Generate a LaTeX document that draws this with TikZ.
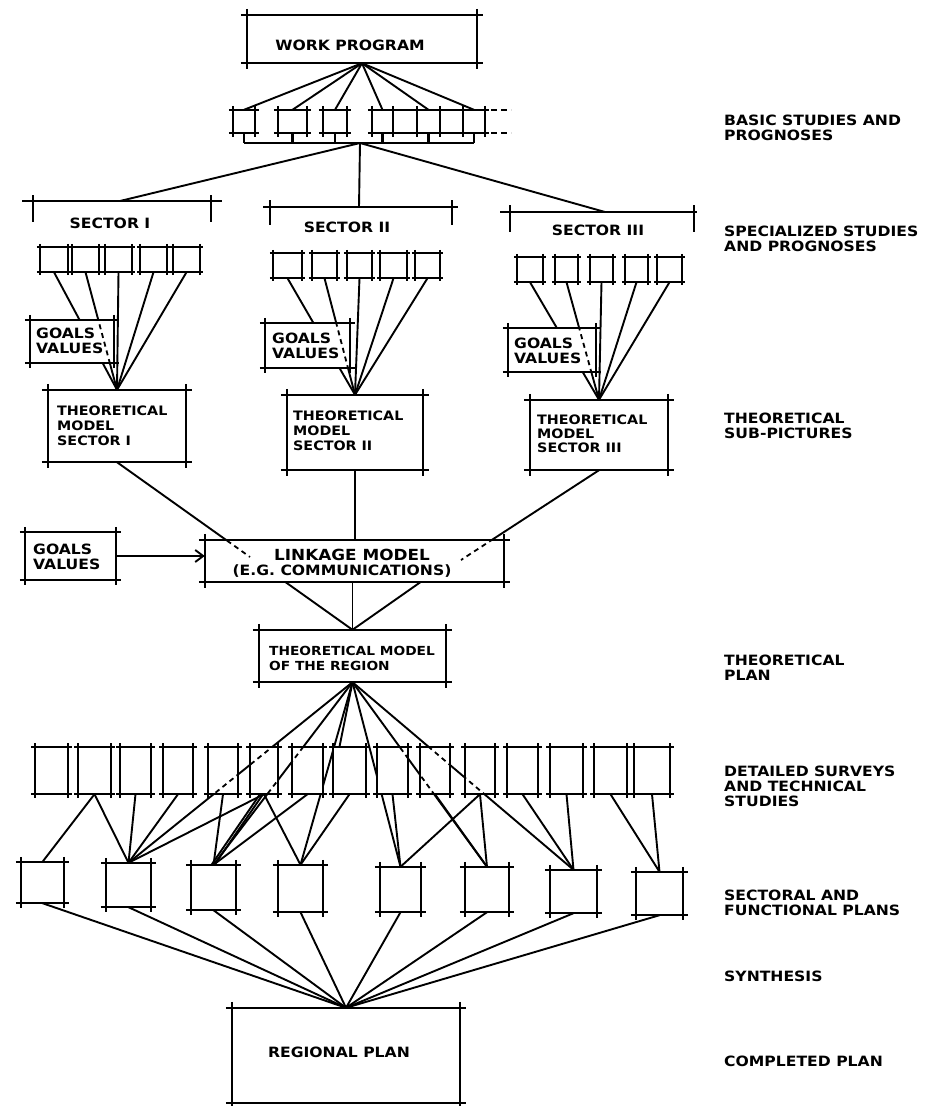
\documentclass[tikz,border=0pt]{standalone}
\usepackage{fontspec}
\setmainfont{DejaVu Sans}[FakeStretch=1.1]
\usetikzlibrary{arrows.meta,calc}
\pgfdeclarelayer{paper}\pgfdeclarelayer{bg}
\pgfsetlayers{paper,bg,main}
\tikzset{
 xl/.style={draw, line width=2.2pt, shorten <=-#1, shorten >=-#1},
 xbox/.style={rectangle, inner sep=0pt, fill=white, append after command={
   (\tikzlastnode.north west) edge[xl=#1] (\tikzlastnode.north east)
   (\tikzlastnode.south west) edge[xl=#1] (\tikzlastnode.south east)
   (\tikzlastnode.north west) edge[xl=#1] (\tikzlastnode.south west)
   (\tikzlastnode.north east) edge[xl=#1] (\tikzlastnode.south east)}},
 bar/.style={line width=2.2pt},
 con/.style={line width=1.9pt},
 dline/.style={line width=1.8pt, dash pattern=on 5pt off 4pt},
 txt/.style={inner sep=0pt, font=\fontsize{14.2}{15}\selectfont\bfseries, align=left},
 lab/.style={inner sep=0pt, font=\fontsize{14.2}{15}\selectfont\bfseries, align=left, anchor=north west},
}
\newcommand\xb[6][6pt]{\node[xbox=#1, minimum width={(#5-#3)*1pt}, minimum height={(#6-#4)*1pt}] (#2) at ({(#3+#5)/2},{(#4+#6)/2}) {};}
\newcommand\dashin[3]{\begin{scope}\clip (#1.north west) rectangle (#1.south east); \draw[dline] (#2) -- (#3);\end{scope}}
\begin{document}
\begin{tikzpicture}[x=1pt,y=-1pt]
\begin{pgfonlayer}{paper}\fill[white] (0,0) rectangle (930,1106);\end{pgfonlayer}
\useasboundingbox (0,0) rectangle (930,1106);

% ---------- work program and basic studies
\xb{wp}{247}{15}{477}{63}
\node[txt] (wpt) at (350,45) {WORK PROGRAM};
\xb[4pt]{b1}{233}{110}{255}{133}
\xb[4pt]{b2}{278}{110}{307}{133}
\xb[4pt]{b3}{323}{110}{347}{133}
\xb[4pt]{b4}{372}{110}{393}{133}
\xb[4pt]{b5}{417}{110}{440}{133}
\xb[4pt]{b6}{463}{110}{485}{133}
\draw[bar] (b4.north east) -- (b5.north west) (b5.north east) -- (b6.north west)
           (b4.south east) -- (b5.south west) (b5.south east) -- (b6.south west);
\draw[bar, dash pattern=on 6pt off 4pt] ([xshift=6pt]b6.north east) -- ([xshift=26pt]b6.north east);
\draw[bar, dash pattern=on 6pt off 4pt] ([xshift=6pt]b6.south east) -- ([xshift=26pt]b6.south east);
\coordinate (brk) at (360,143);
\coordinate (j1) at (120,201);
\coordinate (j2) at (359,207);
\coordinate (j3) at (605,212);
\begin{pgfonlayer}{bg}
 \foreach \i in {1,...,6} \draw[con] (wp.south) -- (b\i.north);
 \foreach \i in {1,...,6} \draw[bar] (b\i.south) -- (b\i.south |- brk);
 \draw[bar] (b1.south |- brk) -- (b6.south |- brk);
 \draw[con] (brk) -- (j1);
 \draw[con] (brk) -- (j2);
 \draw[con] (brk) -- (j3);
\end{pgfonlayer}

% ---------- sector bars
\draw[bar] (22,201) -- (222,201) (33,195) -- (33,222) (211,195) -- (211,222);
\draw[bar] (263,207) -- (458,207) (270,200) -- (270,225) (452,200) -- (452,225);
\draw[bar] (500,212) -- (697,212) (510,205) -- (510,232) (694,205) -- (694,232);
\node[txt] (sec1) at (110,223) {SECTOR I};
\node[txt] (sec2) at (347,227) {SECTOR II};
\node[txt] (sec3) at (598,230) {SECTOR III};

% ---------- sector I
\xb[3pt]{sa1}{40}{247}{68}{272}
\xb[3pt]{sa2}{72}{247}{99}{272}
\xb[3pt]{sa3}{105}{247}{132}{272}
\xb[3pt]{sa4}{140}{247}{167}{272}
\xb[3pt]{sa5}{173}{247}{200}{272}
\xb[5pt]{ga}{30}{320}{114}{363}
\node[txt, anchor=west] (gat) at (36,341) {GOALS\\VALUES};
\xb{ta}{48}{390}{186}{462}
\node[txt, font=\fontsize{13}{15}\selectfont\bfseries, anchor=north west] (tat) at (57,406) {THEORETICAL\\MODEL\\SECTOR I};
% ---------- sector II
\xb[3pt]{sb1}{273}{253}{302}{278}
\xb[3pt]{sb2}{312}{253}{337}{278}
\xb[3pt]{sb3}{347}{253}{372}{278}
\xb[3pt]{sb4}{380}{253}{407}{278}
\xb[3pt]{sb5}{415}{253}{440}{278}
\xb[5pt]{gb}{265}{323}{350}{368}
\node[txt, anchor=west] (gbt) at (272,346) {GOALS\\VALUES};
\xb{tb}{287}{395}{423}{470}
\node[txt, font=\fontsize{13}{15}\selectfont\bfseries, anchor=north west] (tbt) at (293,411) {THEORETICAL\\MODEL\\SECTOR II};
% ---------- sector III
\xb[3pt]{sc1}{517}{257}{543}{282}
\xb[3pt]{sc2}{555}{257}{578}{282}
\xb[3pt]{sc3}{590}{257}{613}{282}
\xb[3pt]{sc4}{625}{257}{648}{282}
\xb[3pt]{sc5}{657}{257}{682}{282}
\xb[5pt]{gc}{508}{328}{596}{372}
\node[txt, anchor=west] (gct) at (514,351) {GOALS\\VALUES};
\xb{tc}{530}{400}{668}{470}
\node[txt, font=\fontsize{13}{14}\selectfont\bfseries, anchor=north west] (tct) at (537,415) {THEORETICAL\\MODEL\\SECTOR III};

\begin{pgfonlayer}{bg}
 \foreach \i in {1,...,5} \draw[con] (sa\i.south) -- (ta.north);
 \foreach \i in {1,...,5} \draw[con] (sb\i.south) -- (tb.north);
 \foreach \i in {1,...,5} \draw[con] (sc\i.south) -- (tc.north);
\end{pgfonlayer}
\dashin{ga}{sa2.south}{ta.north}
\dashin{gb}{sb2.south}{tb.north}
\dashin{gc}{sc2.south}{tc.north}

% ---------- linkage model
\xb[5pt]{gv}{25}{532}{116}{580}
\node[txt, anchor=west] (gvt) at (33,557) {GOALS\\VALUES};
\xb{lk}{205}{540}{504}{582}
\node[txt, font=\fontsize{15.3}{16}\selectfont\bfseries] (lkt1) at (352,555) {LINKAGE MODEL};
\node[txt, font=\fontsize{14.2}{15}\selectfont\bfseries] (lkt2) at (342,571) {(E.G. COMMUNICATIONS)};
\draw[con, -{Straight Barb[length=8pt, width=12pt]}] (gv.east) -- (gv.east -| lk.west);
\coordinate (k1) at (250,557);
\coordinate (k3) at (461,560);
\begin{pgfonlayer}{bg}
 \draw[con] (ta.south) -- (k1);
 \draw[con] (tb.south) -- (tb.south |- lk.north);
 \draw[con] (tc.south) -- (k3);
\end{pgfonlayer}
\dashin{lk}{ta.south}{k1}
\dashin{lk}{tc.south}{k3}

% ---------- theoretical model of the region
\xb{tr}{259}{630}{446}{682}
\node[txt, font=\fontsize{12.5}{15.5}\selectfont\bfseries, anchor=north west] (trt) at (269,646) {THEORETICAL MODEL\\OF THE REGION};
\coordinate (l1) at ($(lk.south west)!0.27!(lk.south east)$);
\coordinate (l3) at ($(lk.south west)!0.72!(lk.south east)$);
\begin{pgfonlayer}{bg}
 \draw[con] (l1) -- (tr.north);
 \draw[con] (lk.south -| tr.north) -- (tr.north);
 \draw[con] (l3) -- (tr.north);
\end{pgfonlayer}

% ---------- detailed surveys
\foreach \n/\a/\b in {1/35/68, 2/78/111, 3/120/151, 4/163/193, 5/208/238, 6/250/278, 7/292/323, 8/333/366, 9/377/408, 10/420/450, 11/465/495, 12/507/538, 13/550/583, 14/594/627, 15/634/670}
  {\xb[3.5pt]{d\n}{\a}{747}{\b}{794}}
% ---------- sectoral plans
\foreach \n/\a/\t/\b/\c in {1/21/862/64/903, 2/106/863/151/907, 3/191/865/236/910, 4/278/865/323/912, 5/380/867/421/912, 6/465/867/509/912, 7/550/870/597/913, 8/636/872/683/915}
  {\xb[5pt]{p\n}{\a}{\t}{\b}{\c}}
% ---------- regional plan
\xb{rp}{232}{1008}{460}{1103}
\node[txt] (rpt) at (339,1052) {REGIONAL PLAN};

\coordinate (g8) at ($(d8.north west)!0.2!(d8.north east)$);
\begin{pgfonlayer}{bg}
 \draw[con] (tr.south) -- (p2.north);
 \draw[con] (tr.south) -- (p3.north);
 \draw[con] (tr.south) -- (p4.north);
 \draw[con] (tr.south) -- (g8);
 \draw[con] (tr.south) -- (p5.north);
 \draw[con] (tr.south) -- (p6.north);
 \draw[con] (tr.south) -- (p7.north);
 \draw[con] (d2.south) -- (p1.north);
 \draw[con] (d2.south) -- (p2.north);
 \draw[con] (d3.south) -- (p2.north);
 \draw[con] (d4.south) -- (p2.north);
 \draw[con] (d6.south) -- (p2.north);
 \draw[con] (d5.south) -- (p3.north);
 \draw[con] ([xshift=-4pt]d6.south) -- ([xshift=-2pt]p3.north);
 \draw[con] ([xshift=-1pt]d6.south) -- ([xshift=1pt]p3.north);
 \draw[con] (d7.south) -- (p3.north);
 \draw[con] (d6.south) -- (p4.north);
 \draw[con] (d8.south) -- (p4.north);
 \draw[con] (d9.south) -- (p5.north);
 \draw[con] (d11.south) -- (p5.north);
 \draw[con] (d10.south) -- (p6.north);
 \draw[con] (d11.south) -- (p6.north);
 \draw[con] (d12.south) -- (p7.north);
 \draw[con] (d13.south) -- (p7.north);
 \draw[con] (d14.south) -- (p8.north);
 \draw[con] (d15.south) -- (p8.north);
 \foreach \n in {1,...,8} \draw[con] (p\n.south) -- (rp.north);
\end{pgfonlayer}
\dashin{d6}{tr.south}{p2.north}
\dashin{d5}{tr.south}{p2.north}
\dashin{d7}{tr.south}{p3.north}
\dashin{d6}{tr.south}{p3.north}
\dashin{d9}{tr.south}{p6.north}
\dashin{d10}{tr.south}{p6.north}
\dashin{d10}{tr.south}{p7.north}
\dashin{d11}{tr.south}{p7.north}

% ---------- right-hand labels
\node[lab] (L1) at (724,115) {BASIC STUDIES AND\\PROGNOSES};
\node[lab] (L2) at (724,226) {SPECIALIZED STUDIES\\AND PROGNOSES};
\node[lab] (L3) at (724,413) {THEORETICAL\\SUB-PICTURES};
\node[lab] (L4) at (724,655) {THEORETICAL\\PLAN};
\node[lab] (L5) at (724,766) {DETAILED SURVEYS\\AND TECHNICAL\\STUDIES};
\node[lab] (L6) at (724,890) {SECTORAL AND\\FUNCTIONAL PLANS};
\node[lab] (L7) at (724,971) {SYNTHESIS};
\node[lab] (L8) at (724,1056) {COMPLETED PLAN};
\end{tikzpicture}
\end{document}
